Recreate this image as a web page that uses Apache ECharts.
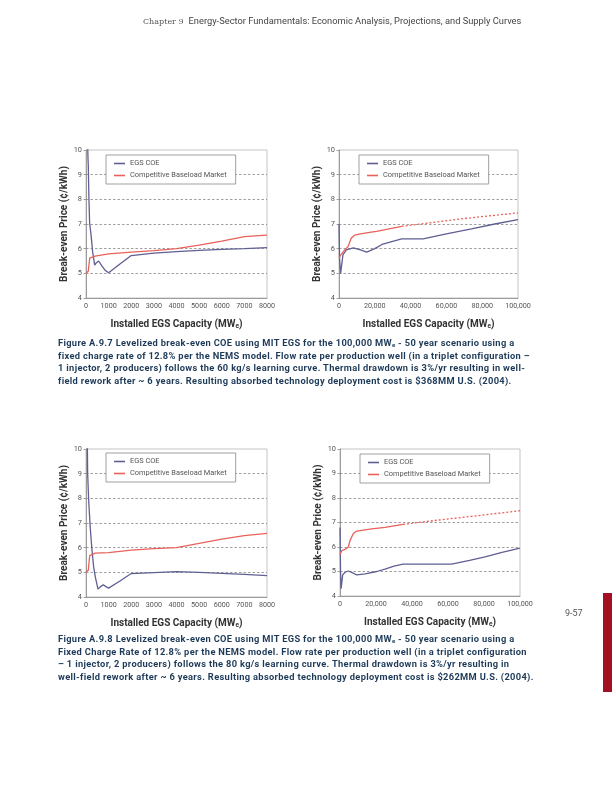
<!DOCTYPE html>
<html><head><meta charset="utf-8">
<script src="https://cdn.jsdelivr.net/npm/echarts@6/dist/echarts.min.js"></script>
<style>
body{margin:0;background:#fff;}
#wrap{position:relative;width:612px;height:792px;overflow:hidden;background:#fff;}
#chart{position:absolute;left:0;top:0;width:612px;height:792px;}
.cap{position:absolute;left:58px;font-family:Roboto,"Open Sans",sans-serif;font-weight:bold;font-size:9.3px;letter-spacing:0.33px;line-height:12.6px;color:#1d3a58;white-space:nowrap;}
.cap sub{font-size:6px;vertical-align:-1px;line-height:0;}
#hdr{position:absolute;top:15px;left:143px;font-size:9.3px;color:#444;white-space:nowrap;font-family:Roboto,sans-serif;}
#hdr .ch{font-family:"DejaVu Serif","Liberation Serif",serif;font-size:8px;color:#555;margin-right:5px;}
#pg{position:absolute;left:565px;top:608px;font-family:Roboto,sans-serif;font-size:9px;color:#555;}
#bar{position:absolute;left:603px;top:593px;width:9px;height:99px;background:#a50f24;}
</style></head>
<body><div id="wrap">
<div id="chart"></div>
<div id="hdr"><span class="ch">Chapter 9</span>Energy-Sector Fundamentals: Economic Analysis, Projections, and Supply Curves</div>
<div class="cap" style="top:337px">Figure A.9.7 Levelized break-even COE using MIT EGS for the 100,000 MW<sub>e</sub> - 50 year scenario using a<br>fixed charge rate of 12.8% per the NEMS model. Flow rate per production well (in a triplet configuration –<br>1 injector, 2 producers) follows the 60 kg/s learning curve. Thermal drawdown is 3%/yr resulting in well-<br>field rework after ~ 6 years. Resulting absorbed technology deployment cost is $368MM U.S. (2004).</div>
<div class="cap" style="top:633px">Figure A.9.8 Levelized break-even COE using MIT EGS for the 100,000 MW<sub>e</sub> - 50 year scenario using a<br>Fixed Charge Rate of 12.8% per the NEMS model. Flow rate per production well (in a triplet configuration<br>– 1 injector, 2 producers) follows the 80 kg/s learning curve. Thermal drawdown is 3%/yr resulting in<br>well-field rework after ~ 6 years. Resulting absorbed technology deployment cost is $262MM U.S. (2004).</div>
<div id="pg">9-57</div>
<div id="bar"></div>
</div>
<script>
// ---- data (x = installed capacity MWe, y = break-even price ¢/kWh) ----
const yTicks = [4,5,6,7,8,9,10];
const smallXTicks = [0,1000,2000,3000,4000,5000,6000,7000,8000];
const largeXTicks = [0,20000,40000,60000,80000,100000];

// Figure A.9.7 (60 kg/s)
const f7SmallEgs = [[50,11],[90,9.6],[100,9.4],[130,8.0],[160,7.05],[230,6.5],[290,5.9],[382,5.33],[450,5.42],[558,5.5],[700,5.3],[850,5.12],[1000,5.02],[1500,5.38],[2000,5.72],[3000,5.82],[4000,5.88],[5000,5.93],[6000,5.97],[7000,6.0],[8000,6.04]];
const f7SmallMarket = [[0,5.0],[100,5.08],[160,5.1],[165,5.62],[400,5.7],[1000,5.79],[2000,5.86],[3000,5.92],[4000,6.0],[5000,6.14],[6000,6.31],[7000,6.49],[8000,6.55]];
const f7LargeEgs = [[0,7.0],[300,5.6],[900,5.0],[2200,5.75],[4100,5.95],[8000,6.03],[12000,5.95],[15500,5.86],[20000,6.0],[24000,6.17],[30000,6.3],[35000,6.4],[47000,6.4],[60000,6.6],[74000,6.8],[87000,7.0],[100000,7.18]];
const f7LargeMarket = [[0,5.6],[1000,5.75],[3200,5.95],[5000,6.08],[6900,6.43],[8800,6.55],[12000,6.6],[18000,6.67],[21000,6.7],[28000,6.8],[35000,6.9]];
const f7LargeMarketProj = [[35000,6.9],[46000,7.0],[65000,7.18],[80000,7.3],[100000,7.45]];

// Figure A.9.8 (80 kg/s)
const f8SmallEgs = [[50,11],[73,9.0],[117,7.94],[190,6.78],[264,5.9],[338,5.22],[411,4.82],[530,4.32],[620,4.4],[760,4.5],[880,4.42],[1000,4.36],[1500,4.65],[2000,4.95],[3000,4.99],[4000,5.03],[5000,5.0],[6000,4.96],[7000,4.92],[8000,4.87]];
const f8SmallMarket = [[0,5.02],[100,5.08],[160,5.1],[165,5.68],[400,5.78],[1000,5.8],[2000,5.9],[3000,5.96],[4000,6.0],[5000,6.17],[6000,6.35],[7000,6.49],[8000,6.58]];
const f8LargeEgs = [[0,6.8],[300,5.0],[600,4.3],[1500,4.86],[2800,4.97],[4600,5.02],[7400,4.93],[9300,4.86],[14000,4.9],[20400,5.0],[25000,5.1],[30000,5.22],[35000,5.3],[62000,5.3],[72000,5.45],[80600,5.6],[90000,5.78],[100000,5.95]];
const f8LargeMarket = [[0,5.7],[1000,5.85],[2800,5.9],[4600,6.0],[5500,6.25],[7400,6.55],[9300,6.65],[17600,6.74],[25000,6.8],[35000,6.92]];
const f8LargeMarketProj = [[35000,6.92],[54600,7.1],[73100,7.25],[100000,7.48]];

const seriesNames = ['EGS COE','Competitive Baseload Market'];
const yName = 'Break-even Price (¢/kWh)';

// ---- chart ----
const BLUE = '#5f5f92', RED = '#e8625a';
const font = 'Roboto, "Open Sans", sans-serif';
const grids = [
  {left:86, top:150, width:181, height:148},
  {left:339, top:150, width:179, height:148},
  {left:86, top:449, width:181, height:148},
  {left:340, top:449, width:180, height:147}
];
const xTickSets = [smallXTicks, largeXTicks, smallXTicks, largeXTicks];
const legendPos = [{left:106,top:155},{left:359,top:155},{left:106,top:453},{left:360,top:454}];

const xAxis = grids.map((g,i)=>{
  const t = xTickSets[i];
  const large = t[t.length-1] > 10000;
  return {
    type:'value', gridIndex:i, min:t[0], max:t[t.length-1], interval:t[1]-t[0],
    axisLine:{show:true, lineStyle:{color:'#8a8a8a', width:0.8}},
    axisTick:{show:false},
    axisLabel:{fontFamily:font, fontSize:7.2, color:'#555', margin:5,
      formatter: v => large ? v.toLocaleString('en-US') : String(v)},
    splitLine:{show:false},
    name:'{a|Installed EGS Capacity (MW}{s|e}{a|)}', nameLocation:'middle', nameGap:20,
    nameTextStyle:{rich:{
      a:{fontFamily:font, fontWeight:'bold', fontSize:10, color:'#333'},
      s:{fontFamily:font, fontWeight:'bold', fontSize:6.5, color:'#333', padding:[5,0,0,0]}
    }}
  };
});
const yAxis = grids.map((g,i)=>({
  type:'value', gridIndex:i, min:yTicks[0], max:yTicks[yTicks.length-1], interval:1,
  axisLine:{show:true, lineStyle:{color:'#8a8a8a', width:0.8}},
  axisTick:{show:true, length:2.5, lineStyle:{color:'#8a8a8a', width:0.8}},
  axisLabel:{fontFamily:font, fontSize:7.4, color:'#555', margin:4},
  splitLine:{show:true, showMinLine:false, showMaxLine:false, lineStyle:{color:'#777', width:0.7, type:[2.5,2]}},
  name:yName, nameLocation:'middle', nameGap:16,
  nameTextStyle:{fontFamily:font, fontWeight:'bold', fontSize:10, color:'#333'}
}));

function line(name, data, idx, color, dashed){
  return {type:'line', name, data, xAxisIndex:idx, yAxisIndex:idx, symbol:'none',
    clip:true, z: color===RED?3:2,
    lineStyle:{color, width:1.3, type: dashed?[2,2]:'solid'}, itemStyle:{color}};
}
const series = [
  line(seriesNames[0], f7SmallEgs, 0, BLUE),
  line(seriesNames[1], f7SmallMarket, 0, RED),
  line(seriesNames[0], f7LargeEgs, 1, BLUE),
  line(seriesNames[1], f7LargeMarket, 1, RED),
  line('Projected Market A', f7LargeMarketProj, 1, RED, true),
  line(seriesNames[0], f8SmallEgs, 2, BLUE),
  line(seriesNames[1], f8SmallMarket, 2, RED),
  line(seriesNames[0], f8LargeEgs, 3, BLUE),
  line(seriesNames[1], f8LargeMarket, 3, RED),
  line('Projected Market B', f8LargeMarketProj, 3, RED, true)
];
const legend = legendPos.map(p=>({
  data: seriesNames, left:p.left, top:p.top, orient:'vertical',
  icon:'rect', itemWidth:11, itemHeight:1.6, itemGap:5,
  padding:[5,9,5,8], borderColor:'#888', borderWidth:0.8, backgroundColor:'#fff',
  selectedMode:false,
  textStyle:{fontFamily:font, fontSize:7.4, color:'#555'}
}));

const chart = echarts.init(document.getElementById('chart'), null, {renderer:'canvas'});
chart.setOption({
  animation:false,
  backgroundColor:'#fff',
  grid: grids.map(g=>Object.assign({show:true, borderColor:'#b5b5b5', borderWidth:0.8, backgroundColor:'transparent', containLabel:false}, g)),
  xAxis, yAxis, series, legend
});
</script>
</body></html>
